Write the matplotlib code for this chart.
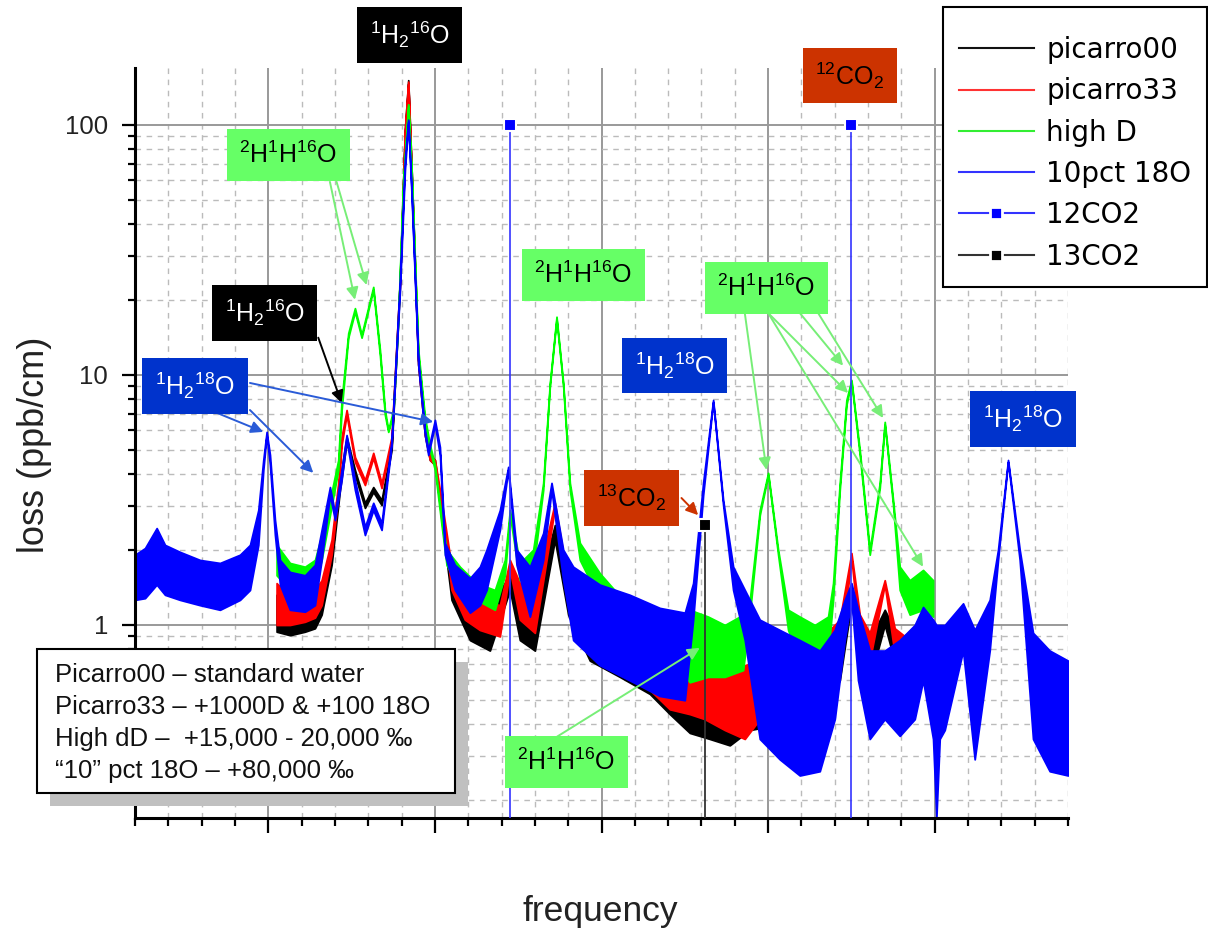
import matplotlib
matplotlib.use("Agg")
import matplotlib.pyplot as plt
from matplotlib.lines import Line2D
from matplotlib.patches import Rectangle
from matplotlib.ticker import MultipleLocator, FixedLocator, NullFormatter

plt.rcParams["font.family"] = ["Liberation Sans", "DejaVu Sans"]
plt.rcParams["mathtext.default"] = "regular"

# ---- spectra: x = frequency (arb.), upper / lower edge of the noisy trace (ppb/cm)
BLUE_X = [-0.80, -0.74, -0.67, -0.62, -0.53, -0.41, -0.29, -0.17, -0.11, -0.06, -0.03, -0.01,
          0.01, 0.04, 0.07, 0.13, 0.22, 0.28, 0.32, 0.37, 0.40, 0.44, 0.47, 0.52, 0.58, 0.63,
          0.68, 0.74, 0.79, 0.82, 0.84, 0.86, 0.90, 0.94, 0.96, 1.00, 1.03, 1.06, 1.12, 1.21,
          1.27, 1.31, 1.39, 1.44, 1.49, 1.57, 1.65, 1.70, 1.77, 1.83, 1.99, 2.17, 2.35, 2.50,
          2.55, 2.61, 2.67, 2.73, 2.79, 2.86, 2.95, 3.07, 3.19, 3.31, 3.40, 3.46, 3.50, 3.54,
          3.61, 3.70, 3.79, 3.88, 3.93, 3.99, 4.01, 4.03, 4.06, 4.17, 4.24, 4.33, 4.38, 4.44,
          4.51, 4.59, 4.69, 4.80]
BLUE_HI = [1.91, 2.03, 2.44, 2.09, 1.96, 1.82, 1.77, 1.91, 2.09, 2.88, 4.57, 5.92,
           4.79, 2.63, 1.82, 1.63, 1.58, 1.74, 2.40, 3.56, 2.81, 4.17, 5.75, 3.80, 2.47, 3.08,
           2.56, 5.50, 24.0, 72.4, 105, 55.0, 11.5, 6.03, 5.01, 6.61, 5.15, 2.13, 1.74, 1.54,
           1.71, 2.00, 2.88, 4.29, 2.00, 1.71, 2.33, 3.70, 2.00, 1.71, 1.45, 1.32, 1.17, 1.12,
           1.47, 3.70, 7.94, 3.16, 1.71, 1.38, 1.05, 0.955, 0.87, 0.79, 0.955, 1.26, 1.47, 1.15,
           0.79, 0.79, 0.87, 1.00, 1.18, 1.05, 1.00, 1.00, 1.00, 1.22, 0.955, 1.26, 2.00, 4.57,
           2.00, 0.93, 0.79, 0.72]
BLUE_LO = [1.26, 1.28, 1.45, 1.32, 1.26, 1.20, 1.15, 1.26, 1.38, 2.09, 4.17, 5.75,
           4.37, 2.29, 1.45, 1.15, 1.13, 1.20, 1.82, 3.31, 2.63, 3.80, 5.50, 3.47, 2.29, 2.88,
           2.40, 5.25, 21.9, 66.1, 103, 52.5, 11.0, 5.75, 4.79, 6.31, 4.79, 1.91, 1.38, 1.12,
           1.20, 1.38, 2.40, 4.17, 1.74, 1.08, 1.82, 3.47, 1.51, 0.87, 0.69, 0.60, 0.52, 0.50,
           1.05, 3.31, 7.80, 3.02, 1.38, 0.87, 0.35, 0.29, 0.25, 0.26, 0.42, 0.87, 1.26, 0.60,
           0.35, 0.42, 0.36, 0.42, 0.60, 0.35, 0.17, 0.35, 0.38, 0.79, 0.29, 0.79, 1.82, 4.49,
           1.82, 0.35, 0.26, 0.25]

GREEN_X = [0.05, 0.13, 0.22, 0.28, 0.32, 0.37, 0.42, 0.44, 0.48, 0.52, 0.56, 0.63, 0.67,
           0.70, 0.72, 0.75, 0.78, 0.81, 0.84, 0.86, 0.90, 0.94, 0.97, 1.00, 1.04, 1.07, 1.15,
           1.25, 1.36, 1.42, 1.45, 1.51, 1.59, 1.65, 1.69, 1.73, 1.77, 1.81, 1.87, 1.99, 2.13,
           2.29, 2.43, 2.53, 2.64, 2.74, 2.85, 2.89, 2.95, 3.00, 3.06, 3.12, 3.19, 3.28, 3.36,
           3.39, 3.43, 3.47, 3.50, 3.55, 3.61, 3.67, 3.70, 3.75, 3.79, 3.85, 3.93, 3.99]
GREEN_HI = [2.09, 1.77, 1.71, 1.82, 2.29, 3.16, 4.57, 7.94, 14.7, 18.5, 14.5, 22.5, 12.6,
            7.24, 6.03, 7.24, 17.1, 60.3, 121, 66.1, 12.6, 6.79, 5.25, 4.37, 2.70, 2.00, 1.71,
            1.47, 1.38, 1.82, 2.88, 1.77, 2.00, 3.70, 9.29, 17.1, 9.29, 3.70, 2.13, 1.61, 1.26,
            1.13, 1.02, 1.15, 1.08, 1.00, 1.10, 1.26, 2.88, 4.06, 2.00, 1.15, 1.08, 1.00, 1.08,
            1.47, 3.70, 7.94, 9.55, 5.01, 2.00, 3.70, 6.49, 3.16, 1.71, 1.51, 1.66, 1.51]
GREEN_LO = [1.58, 1.38, 1.36, 1.45, 1.82, 2.75, 4.17, 7.24, 14.1, 17.9, 14.1, 21.9, 12.0,
            6.92, 5.92, 6.92, 16.6, 57.5, 119, 63.1, 12.0, 6.49, 5.01, 4.17, 2.51, 1.74, 1.38,
            1.26, 1.15, 1.58, 2.75, 1.51, 1.66, 3.47, 9.04, 16.7, 9.04, 3.47, 1.82, 1.26, 0.955,
            0.83, 0.72, 0.59, 0.62, 0.62, 0.66, 1.10, 2.75, 3.98, 1.91, 0.955, 0.72, 0.71, 0.76,
            1.26, 3.47, 7.59, 9.38, 4.79, 1.91, 3.53, 6.31, 3.02, 1.38, 1.10, 1.15, 1.08]

RED_X = [0.05, 0.13, 0.22, 0.28, 0.32, 0.38, 0.42, 0.44, 0.47, 0.52, 0.58, 0.63, 0.68,
         0.74, 0.79, 0.82, 0.84, 0.86, 0.90, 0.94, 0.97, 1.00, 1.04, 1.10, 1.18, 1.27, 1.39,
         1.45, 1.51, 1.60, 1.72, 1.80, 1.93, 2.11, 2.29, 2.41, 2.53, 2.62, 2.74, 2.86, 2.95,
         3.07, 3.31, 3.43, 3.50, 3.55, 3.61, 3.70, 3.76, 3.85, 3.93, 3.99]
RED_HI = [1.47, 1.29, 1.29, 1.38, 1.51, 2.19, 3.70, 5.65, 7.24, 4.70, 3.80, 4.88, 3.70,
          5.65, 24.0, 95.5, 149, 66.1, 11.5, 6.03, 4.79, 4.57, 3.16, 1.71, 1.51, 1.26, 1.20,
          1.82, 1.47, 1.38, 3.08, 1.47, 1.26, 1.15, 0.955, 0.79, 0.79, 0.76, 0.72, 0.69, 0.72,
          0.79, 0.87, 1.05, 1.94, 1.10, 0.93, 1.51, 0.97, 0.87, 1.17, 1.00]
RED_LO = [1.00, 1.00, 1.03, 1.07, 1.20, 1.91, 3.31, 5.25, 6.92, 4.49, 3.63, 4.66, 3.53,
          5.40, 22.9, 91.2, 146, 63.1, 11.0, 5.75, 4.57, 4.37, 2.88, 1.38, 1.05, 0.955, 0.90,
          1.66, 1.05, 0.93, 2.94, 1.26, 0.79, 0.66, 0.55, 0.46, 0.44, 0.42, 0.38, 0.35, 0.42,
          0.46, 0.50, 0.72, 1.85, 0.87, 0.72, 1.45, 0.76, 0.69, 1.05, 0.79]

BLACK_X = [0.05, 0.13, 0.22, 0.28, 0.32, 0.38, 0.43, 0.47, 0.52, 0.58, 0.63, 0.68, 0.74,
           0.79, 0.82, 0.84, 0.86, 0.90, 0.94, 0.97, 1.00, 1.04, 1.10, 1.21, 1.33, 1.45, 1.51,
           1.60, 1.72, 1.80, 1.93, 2.11, 2.29, 2.41, 2.53, 2.65, 2.77, 2.89, 3.07, 3.31, 3.43,
           3.50, 3.55, 3.61, 3.70, 3.79, 3.93, 3.99]
BLACK_HI = [1.32, 1.22, 1.22, 1.28, 1.41, 2.00, 3.80, 5.65, 4.17, 3.08, 3.56, 3.16, 5.25,
            24.0, 95.5, 151, 66.1, 11.5, 6.03, 4.79, 4.57, 2.88, 1.58, 1.32, 1.20, 1.58, 1.32,
            1.26, 2.51, 1.38, 1.15, 1.05, 0.87, 0.72, 0.72, 0.69, 0.66, 0.66, 0.72, 0.79, 0.955,
            1.26, 0.955, 0.87, 1.15, 0.87, 1.05, 0.91]
BLACK_LO = [0.94, 0.91, 0.94, 0.97, 1.10, 1.74, 3.47, 5.40, 3.98, 2.94, 3.40, 3.02, 5.01,
            22.9, 91.2, 146, 63.1, 11.0, 5.75, 4.57, 4.37, 2.63, 1.26, 0.87, 0.79, 1.38, 0.87,
            0.79, 2.19, 1.10, 0.72, 0.62, 0.53, 0.44, 0.37, 0.35, 0.33, 0.38, 0.40, 0.44, 0.60,
            1.22, 0.76, 0.60, 1.00, 0.60, 0.79, 0.66]

# CO2 line positions (scatter + drop lines)
CO2_12_X = [1.45, 3.50]
CO2_12_Y = [100, 100]
CO2_13_X = [2.62]
CO2_13_Y = [2.5]

LEGEND_LABELS = ["picarro00", "picarro33", "high D", "10pct 18O", "12CO2", "13CO2"]

# label boxes: text, (x, y) centre in data coords, face colour, text colour
SPECIES = [
    (r"$^{1}$H$_{2}$$^{16}$O", (0.85, 229), "black", "white"),
    (r"$^{2}$H$^{1}$H$^{16}$O", (0.12, 75.9), "#66ff66", "black"),
    (r"$^{1}$H$_{2}$$^{16}$O", (-0.02, 17.7), "black", "white"),
    (r"$^{1}$H$_{2}$$^{18}$O", (-0.44, 9.04), "#0033cc", "white"),
    (r"$^{2}$H$^{1}$H$^{16}$O", (1.89, 25.1), "#66ff66", "black"),
    (r"$^{1}$H$_{2}$$^{18}$O", (2.44, 10.9), "#0033cc", "white"),
    (r"$^{13}$CO$_{2}$", (2.18, 3.22), "#cc3300", "black"),
    (r"$^{12}$CO$_{2}$", (3.49, 158), "#cc3300", "black"),
    (r"$^{2}$H$^{1}$H$^{16}$O", (2.99, 22.3), "#66ff66", "black"),
    (r"$^{1}$H$_{2}$$^{18}$O", (4.53, 6.67), "#0033cc", "white"),
    (r"$^{2}$H$^{1}$H$^{16}$O", (1.79, 0.283), "#66ff66", "black"),
]

# arrows: start, end, colour
ARROWS = [
    ((0.37, 59.2), (0.52, 20.0), "#77ee77"),
    ((0.41, 59.2), (0.59, 22.9), "#77ee77"),
    ((0.30, 14.1), (0.44, 7.73), "black"),
    ((-0.35, 7.24), (-0.03, 5.92), "#2a5bd7"),
    ((-0.11, 7.24), (0.27, 4.06), "#2a5bd7"),
    ((-0.11, 9.29), (0.99, 6.49), "#2a5bd7"),
    ((2.48, 3.22), (2.58, 2.75), "#cc3300"),
    ((2.86, 17.7), (2.99, 4.17), "#77ee77"),
    ((3.00, 17.7), (3.48, 8.47), "#77ee77"),
    ((3.00, 17.7), (3.93, 1.71), "#77ee77"),
    ((3.19, 17.7), (3.45, 10.9), "#77ee77"),
    ((3.30, 17.7), (3.69, 6.73), "#77ee77"),
    ((1.72, 0.353), (2.59, 0.81), "#77ee77"),
]

NOTE_LINES = [
    "Picarro00 \u2013 standard water",
    "Picarro33 \u2013 +1000D & +100 18O",
    "High dD \u2013  +15,000 - 20,000 \u2030",
    "\u201c10\u201d pct 18O \u2013 +80,000 \u2030",
]

YMIN, YMAX = 0.169, 169

fig = plt.figure(figsize=(12.08, 9.33), dpi=100, facecolor="white")
ax = fig.add_axes([135 / 1208, 1 - 818 / 933, 933 / 1208, 750 / 933])

series = [
    (BLACK_X, BLACK_LO, BLACK_HI, "#000000"),
    (RED_X, RED_LO, RED_HI, "#ff0000"),
    (GREEN_X, GREEN_LO, GREEN_HI, "#00ff00"),
    (BLUE_X, BLUE_LO, BLUE_HI, "#0000ff"),
]
for i, (x, lo, hi, c) in enumerate(series):
    ax.fill_between(x, lo, hi, facecolor=c, edgecolor=c, lw=1.3, zorder=2 + i * 0.1)

# drop lines + markers
ax.vlines(CO2_12_X, YMIN, CO2_12_Y, color="#3333ff", lw=1.2, zorder=3)
ax.plot(CO2_12_X, CO2_12_Y, "s", ms=9, mfc="#0000ff", mec="white", mew=1.5, zorder=4, clip_on=False)
ax.vlines(CO2_13_X, YMIN, CO2_13_Y, color="#333333", lw=1.3, zorder=3)
ax.plot(CO2_13_X, CO2_13_Y, "s", ms=9, mfc="#000000", mec="white", mew=1.5, zorder=4)

ax.set_yscale("log")
ax.set_ylim(YMIN, YMAX)
ax.set_xlim(-0.8, 4.8)

ax.xaxis.set_major_locator(MultipleLocator(1))
ax.xaxis.set_minor_locator(MultipleLocator(0.2))
ax.xaxis.set_major_formatter(NullFormatter())
ax.yaxis.set_major_locator(FixedLocator([1, 10, 100]))
ax.yaxis.set_minor_locator(FixedLocator([m * d for d in (0.1, 1, 10, 100) for m in range(2, 10)]))
ax.set_yticklabels(["1", "10", "100"])
ax.yaxis.set_minor_formatter(NullFormatter())

ax.grid(which="major", color="#999999", lw=1.4, ls="-", zorder=0)
ax.grid(which="minor", color="#bbbbbb", lw=1.0, ls=(0, (4, 4)), zorder=0)
ax.set_axisbelow(True)

for s in ("top", "right"):
    ax.spines[s].set_visible(False)
for s in ("left", "bottom"):
    ax.spines[s].set_linewidth(2.2)
ax.tick_params(axis="y", which="major", direction="out", length=9.5, width=1.6,
               labelsize=18.5, pad=10, labelcolor="#222222")
ax.tick_params(axis="y", which="minor", direction="out", length=5, width=1.6)
ax.tick_params(axis="x", which="major", direction="out", length=11, width=1.6)
ax.tick_params(axis="x", which="minor", direction="out", length=6, width=1.6)

fig.text(600 / 1208, 1 - 912 / 933, "frequency", ha="center", va="center", fontsize=25.5, color="#222222")
fig.text(35 / 1208, 1 - 445 / 933, "loss (ppb/cm)", ha="center", va="center", rotation=90,
         fontsize=26, color="#222222")

for (x0, y0), (x1, y1), c in ARROWS:
    ax.annotate("", xy=(x1, y1), xytext=(x0, y0),
                arrowprops=dict(arrowstyle="-|>", color=c, lw=1.4, mutation_scale=18,
                                shrinkA=0, shrinkB=0), zorder=5, annotation_clip=False)

for txt, (x, y), fc, tc in SPECIES:
    ax.text(x, y, txt, ha="center", va="center", fontsize=18, color=tc, zorder=6, clip_on=False,
            bbox=dict(boxstyle="square,pad=0.5", fc=fc, ec="none"))

# note box with shadow
fig.patches.append(Rectangle((50 / 1208, 1 - 806 / 933), 418 / 1208, 144 / 933,
                             transform=fig.transFigure, fc="#c0c0c0", ec="none", zorder=8))
fig.patches.append(Rectangle((37 / 1208, 1 - 793 / 933), 418 / 1208, 144 / 933,
                             transform=fig.transFigure, fc="white", ec="black", lw=1.5, zorder=9))
for i, line in enumerate(NOTE_LINES):
    fig.text(55 / 1208, 1 - (675 + i * 32) / 933, line, ha="left", va="center",
             fontsize=18.5, color="#111111", zorder=10)

# legend: frame drawn separately so the rows can sit a little lower
fig.patches.append(Rectangle((943 / 1208, 1 - 287 / 933), 264 / 1208, 280 / 933,
                             transform=fig.transFigure, fc="white", ec="black", lw=1.5, zorder=11))
handles = [
    Line2D([], [], color="#111111", lw=1.5),
    Line2D([], [], color="#ff3333", lw=1.5),
    Line2D([], [], color="#33ee33", lw=1.5),
    Line2D([], [], color="#3333ff", lw=1.5),
    Line2D([], [], color="#3333ff", lw=1.5, marker="s", ms=9, mfc="#0000ff", mec="white", mew=2),
    Line2D([], [], color="#333333", lw=1.5, marker="s", ms=9, mfc="#000000", mec="white", mew=2),
]
leg = fig.legend(handles, LEGEND_LABELS, loc="upper left", bbox_to_anchor=(930 / 1208, 1 - 7 / 933),
                 prop={"family": "DejaVu Sans", "size": 20}, frameon=False,
                 borderpad=1.04, labelspacing=0.48,
                 handlelength=2.7, handletextpad=0.45, borderaxespad=0)
leg.set_zorder(12)

fig.savefig("out.png", dpi=100, facecolor="white")
